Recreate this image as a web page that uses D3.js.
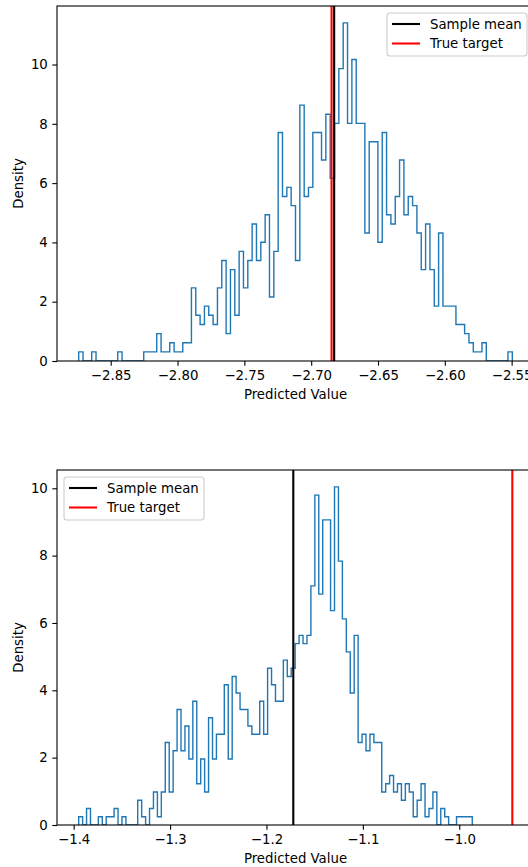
<!DOCTYPE html>
<html>
<head>
<meta charset="utf-8">
<script src="https://cdn.jsdelivr.net/npm/d3@7"></script>
<style>
  html, body { margin: 0; padding: 0; background: #fff; }
  svg { display: block; }
  text { font-family: "DejaVu Sans", sans-serif; }
</style>
</head>
<body>
<script>
// ---------------- DATA ----------------
const nSamples = 1000;

// Top panel: 100-bin histogram counts
const topCounts = [
  1,0,0,1,0,0,0,0,0,1,
  0,0,0,0,0,1,1,1,3,1,
  1,2,1,1,2,2,8,5,4,6,
  5,4,8,11,3,10,5,12,8,11,
  15,11,13,16,7,12,25,18,19,17,
  11,28,18,19,25,25,22,27,20,26,
  32,37,26,33,26,26,14,24,24,13,
  25,16,15,18,22,16,18,17,14,10,
  15,10,6,14,6,6,6,4,4,3,
  2,1,1,2,0,0,0,0,0,1
];
const topBinRange = [-2.87396, -2.5495];
const topSampleMean = -2.6828;
const topTrueTarget = -2.68475;
const topXTicks = [-2.85, -2.80, -2.75, -2.70, -2.65, -2.60, -2.55];
const topXTickLabels = ["\u22122.85", "\u22122.80", "\u22122.75", "\u22122.70", "\u22122.65", "\u22122.60", "\u22122.55"];

// Bottom panel: 100-bin histogram counts
const bottomCounts = [
  1,0,2,0,0,1,0,1,1,2,
  0,1,0,0,0,3,1,0,2,4,
  1,4,10,4,9,14,9,12,8,15,
  5,8,4,13,8,11,11,17,8,18,
  16,14,14,12,11,11,15,11,19,17,
  15,15,20,18,19,22,23,22,23,29,
  40,28,37,37,26,41,32,25,21,16,
  23,10,11,9,11,10,10,4,5,6,
  4,5,3,5,4,1,3,5,1,2,
  4,0,2,1,0,0,1,1,1,1
];
const bottomBinRange = [-1.39481, -0.98649];
const bottomSampleMean = -1.17216;
const bottomTrueTarget = -0.94494;
const bottomXTicks = [-1.4, -1.3, -1.2, -1.1, -1.0];
const bottomXTickLabels = ["\u22121.4", "\u22121.3", "\u22121.2", "\u22121.1", "\u22121.0"];

const yTicks = [0, 2, 4, 6, 8, 10];
const yTickLabels = ["0", "2", "4", "6", "8", "10"];
const legendLabels = ["Sample mean", "True target"];
const xAxisTitle = "Predicted Value";
const yAxisTitle = "Density";

// ---------------- DRAW ----------------
const W = 528, H = 867;
const FS = 13.3;
const svg = d3.select("body").append("svg").attr("width", W).attr("height", H);
svg.append("rect").attr("width", W).attr("height", H).attr("fill", "#fff");

const AX_LEFT = 57, AX_RIGHT = 534, AX_H = 355;

function panel(cfg, idx) {
  const { counts, range, mean, target, xTicks, xLabels, top, legendLoc } = cfg;
  const n = counts.length;
  const w = (range[1] - range[0]) / n;
  const edges = d3.range(n + 1).map(i => range[0] + i * w);
  const dens = counts.map(c => c / (nSamples * w));

  const lo = Math.min(range[0], mean, target);
  const hi = Math.max(range[1], mean, target);
  const m = (hi - lo) * 0.05;
  const x = d3.scaleLinear().domain([lo - m, hi + m]).range([AX_LEFT, AX_RIGHT]);
  const y = d3.scaleLinear().domain([0, d3.max(dens) * 1.05]).range([top + AX_H, top]);

  const g = svg.append("g");
  const clipId = "clip" + idx;
  svg.append("clipPath").attr("id", clipId).append("rect")
    .attr("x", AX_LEFT).attr("y", top).attr("width", AX_RIGHT - AX_LEFT).attr("height", AX_H);

  // histogram step outline
  const pts = [[edges[0], 0]];
  dens.forEach((d, i) => { pts.push([edges[i], d]); pts.push([edges[i + 1], d]); });
  pts.push([edges[n], 0]);
  g.append("path")
    .attr("clip-path", `url(#${clipId})`)
    .attr("d", d3.line().x(p => x(p[0])).y(p => y(p[1]))(pts))
    .attr("fill", "none").attr("stroke", "#1f77b4").attr("stroke-width", 1.4)
    .attr("stroke-linejoin", "miter");

  // vertical lines
  const vl = [{ v: mean, c: "#000" }, { v: target, c: "#ff0000" }];
  g.selectAll(null).data(vl).enter().append("line")
    .attr("clip-path", `url(#${clipId})`)
    .attr("x1", d => x(d.v)).attr("x2", d => x(d.v))
    .attr("y1", top).attr("y2", top + AX_H)
    .attr("stroke", d => d.c).attr("stroke-width", 2.08);

  // axes
  const xa = g.append("g").attr("transform", `translate(0,${top + AX_H})`)
    .call(d3.axisBottom(x).tickValues(xTicks).tickFormat((d, i) => xLabels[i])
      .tickSize(4.7).tickPadding(4.5));
  const ya = g.append("g").attr("transform", `translate(${AX_LEFT},0)`)
    .call(d3.axisLeft(y).tickValues(yTicks).tickFormat((d, i) => yTickLabels[i])
      .tickSize(4.7).tickPadding(4.5));
  [xa, ya].forEach(a => {
    a.select(".domain").remove();
    a.selectAll(".tick line").attr("stroke", "#000").attr("stroke-width", 1.1);
    a.selectAll(".tick text").attr("fill", "#000").style("font-size", FS + "px")
      .style("font-family", "'DejaVu Sans', sans-serif");
  });

  // spines
  g.append("rect").attr("x", AX_LEFT).attr("y", top)
    .attr("width", AX_RIGHT - AX_LEFT).attr("height", AX_H)
    .attr("fill", "none").attr("stroke", "#000").attr("stroke-width", 1.1);

  // axis titles
  g.append("text").attr("x", (AX_LEFT + AX_RIGHT) / 2).attr("y", top + AX_H + 38)
    .attr("text-anchor", "middle").style("font-size", FS + "px").text(xAxisTitle);
  g.append("text")
    .attr("transform", `translate(23,${top + AX_H / 2}) rotate(-90)`)
    .attr("text-anchor", "middle").style("font-size", FS + "px").text(yAxisTitle);

  // legend
  const LW = 140, LH = 43;
  const lx = legendLoc === "right" ? AX_RIGHT - 7 - LW : AX_LEFT + 7;
  const ly = top + 7;
  const lg = g.append("g").attr("transform", `translate(${lx},${ly})`);
  lg.append("rect").attr("width", LW).attr("height", LH).attr("rx", 3)
    .attr("fill", "#fff").attr("fill-opacity", 0.8)
    .attr("stroke", "#cccccc").attr("stroke-width", 1.1);
  vl.forEach((d, i) => {
    const cy = 11 + i * 19.5;
    lg.append("line").attr("x1", 5).attr("x2", 33).attr("y1", cy).attr("y2", cy)
      .attr("stroke", d.c).attr("stroke-width", 2.08);
    lg.append("text").attr("x", 43).attr("y", cy).attr("dy", "0.35em")
      .style("font-size", FS + "px").text(legendLabels[i]);
  });
}

panel({ counts: topCounts, range: topBinRange, mean: topSampleMean, target: topTrueTarget,
        xTicks: topXTicks, xLabels: topXTickLabels, top: 6, legendLoc: "right" }, 0);
panel({ counts: bottomCounts, range: bottomBinRange, mean: bottomSampleMean, target: bottomTrueTarget,
        xTicks: bottomXTicks, xLabels: bottomXTickLabels, top: 470, legendLoc: "left" }, 1);
</script>
</body>
</html>
